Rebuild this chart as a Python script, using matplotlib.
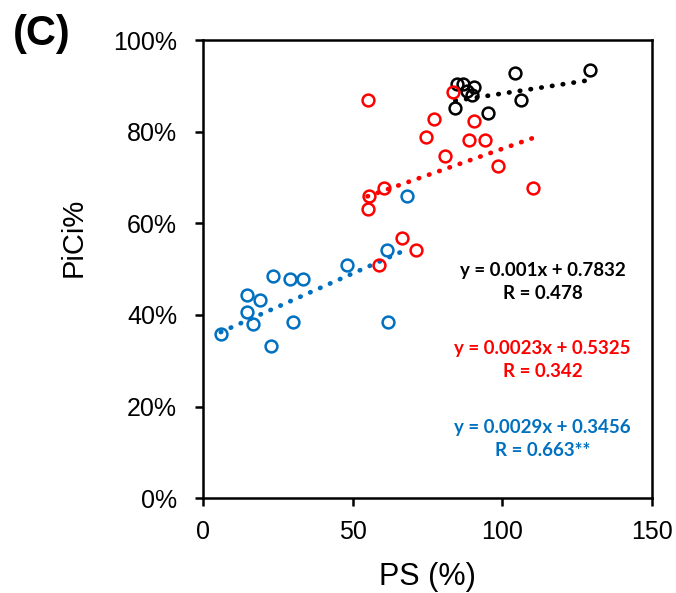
import matplotlib
matplotlib.use('Agg')
import matplotlib.pyplot as plt
import numpy as np
from matplotlib.ticker import PercentFormatter

plt.rcParams['font.family'] = ['Liberation Sans', 'DejaVu Sans']

# black group
black_x = [104.4, 129.5, 85.0, 87.0, 90.7, 88.2, 89.9, 84.3, 95.2, 106.3]
black_y = [0.929, 0.935, 0.904, 0.904, 0.898, 0.889, 0.880, 0.852, 0.841, 0.870]

# red group
red_x = [54.9, 83.5, 77.0, 74.4, 90.7, 88.7, 94.3, 80.9, 98.5, 110.2,
         60.5, 55.5, 54.9, 66.4, 71.2, 58.6]
red_y = [0.869, 0.886, 0.828, 0.788, 0.823, 0.782, 0.782, 0.747, 0.724, 0.676,
         0.676, 0.660, 0.631, 0.567, 0.542, 0.508]

# blue group
blue_x = [5.8, 14.5, 19.0, 14.5, 16.5, 22.5, 23.4, 29.0, 33.3, 29.9,
          48.0, 61.4, 61.9, 68.1]
blue_y = [0.358, 0.444, 0.433, 0.407, 0.380, 0.332, 0.484, 0.478, 0.478, 0.385,
          0.508, 0.542, 0.385, 0.660]

# trendline coefficients (slope, intercept) and R labels
fits = {
    'black': (0.001, 0.7832, '0.478'),
    'red': (0.0023, 0.5325, '0.342'),
    'blue': (0.0029, 0.3456, '0.663**'),
}

colors = {'black': 'black', 'red': '#FF0000', 'blue': '#0070C0'}
groups = {'black': (black_x, black_y), 'red': (red_x, red_y), 'blue': (blue_x, blue_y)}

fig = plt.figure(figsize=(6.76, 5.93), dpi=100)
ax = fig.add_axes([0.301, 0.160, 0.663, 0.7725])

for name, (xs, ys) in groups.items():
    c = colors[name]
    ax.plot(xs, ys, lw=0, marker='o', ms=8.5, mfc='none', mec=c, mew=1.8, zorder=3)
    m, b, r = fits[name]
    xl = np.array([min(xs), max(xs)])
    ax.plot(xl, m * xl + b, color=c, lw=3.4, linestyle=(0, (0.1, 2.2)),
            dash_capstyle='round', zorder=2)

# equation labels
labels = [('black', 0.472), ('red', 0.301), ('blue', 0.129)]
for name, yy in labels:
    m, b, r = fits[name]
    ax.text(113.5, yy, 'y = %gx + %g\nR = %s' % (m, b, r), color=colors[name],
            ha='center', va='center', fontsize=13.5, fontweight='bold',
            family=['Lato', 'DejaVu Sans'], linespacing=1.42)

ax.set_xlim(0, 150)
ax.set_ylim(0, 1)
ax.set_xticks([0, 50, 100, 150])
ax.set_yticks([0, 0.2, 0.4, 0.6, 0.8, 1.0])
ax.yaxis.set_major_formatter(PercentFormatter(1.0, decimals=0))
ax.tick_params(labelsize=18, width=1.8, length=6, direction='out')
ax.tick_params(axis='x', pad=10)
ax.tick_params(axis='y', pad=13)
for s in ax.spines.values():
    s.set_linewidth(1.8)

ax.set_xlabel('PS (%)', fontsize=22, labelpad=13)
ax.set_ylabel('PiCi%', fontsize=21)
ax.yaxis.set_label_coords(-0.258, 0.57)

fig.text(0.019, 0.976, '(C)', fontsize=30, fontweight='bold', va='top')

fig.savefig('out.png', dpi=100)
